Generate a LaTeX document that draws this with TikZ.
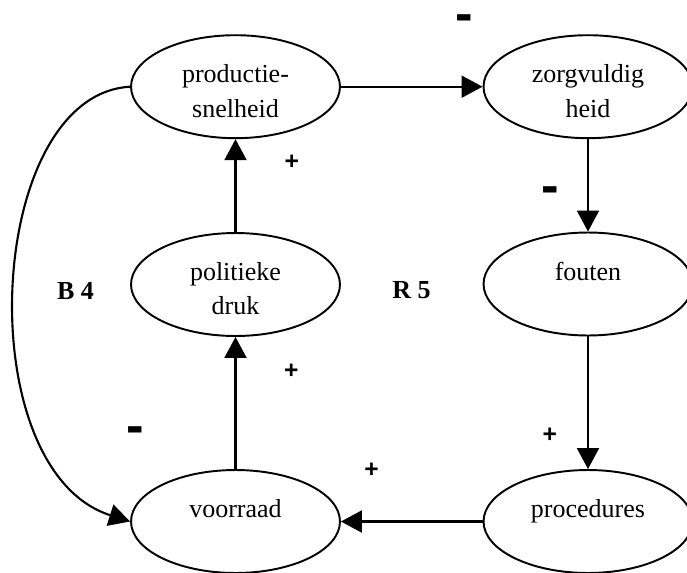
\documentclass[tikz,border=0pt]{standalone}
\usepackage{fontspec}
\setmainfont{Liberation Serif}
\newfontfamily\signfont{Liberation Sans}
\usetikzlibrary{arrows.meta,shapes.geometric}

\begin{document}
\begin{tikzpicture}[
    x=0.02cm, y=-0.02cm,
    var/.style={draw, ellipse, line width=1.1pt, minimum width=4.18cm, minimum height=2.06cm,
        align=center, inner sep=0pt, text height=1.22cm, text depth=0cm,
        font=\fontsize{14.8}{19.6}\selectfont},
    arr/.style={-{Triangle[length=0.42cm, width=0.44cm]}, line width=1.2pt},
    sign/.style={inner sep=0pt, font=\signfont\bfseries\fontsize{14}{16}\selectfont},
    neg/.style={inner sep=0pt, font=\signfont\bfseries\fontsize{30}{32}\selectfont},
    loopname/.style={font=\bfseries\fontsize{14.8}{18}\selectfont}
]
\clip (0,0) rectangle (687,572);

\node[var] (prod) at (235.5,86.7) {productie-\\snelheid};
\node[var] (zorg) at (588,86.7) {zorgvuldig\\heid};
\node[var] (poli) at (235.5,284.5) {politieke\\druk};
\node[var] (fout) at (588,284) {fouten\\\mbox{}};
\node[var] (voor) at (235.5,521.5) {voorraad\\\mbox{}};
\node[var] (proc) at (588,521.5) {procedures\\\mbox{}};

\draw[arr] (prod) -- (zorg);
\draw[arr] (zorg) -- (fout);
\draw[arr] (fout) -- (proc);
\draw[arr] (proc) -- (voor);
\draw[arr] (voor) -- (poli);
\draw[arr] (poli) -- (prod);
\draw[arr] (prod.west) .. controls (-15,95) and (-32,470) .. (voor.west);

% polariteiten
\node[neg] (m1) at (464.7,23) {-};
\node[neg] (m2) at (550.6,195.5) {-};
\node[neg] (m3) at (135.3,435.5) {-};
\node[sign] (p1) at (291.7,162) {+};
\node[sign] (p2) at (291.3,371.5) {+};
\node[sign] (p3) at (549.7,435) {+};
\node[sign] (p4) at (371.5,470) {+};

\node[loopname] (b4) at (75.5,290.5) {B 4};
\node[loopname] (r5) at (411.5,290.5) {R 5};
\end{tikzpicture}
\end{document}
